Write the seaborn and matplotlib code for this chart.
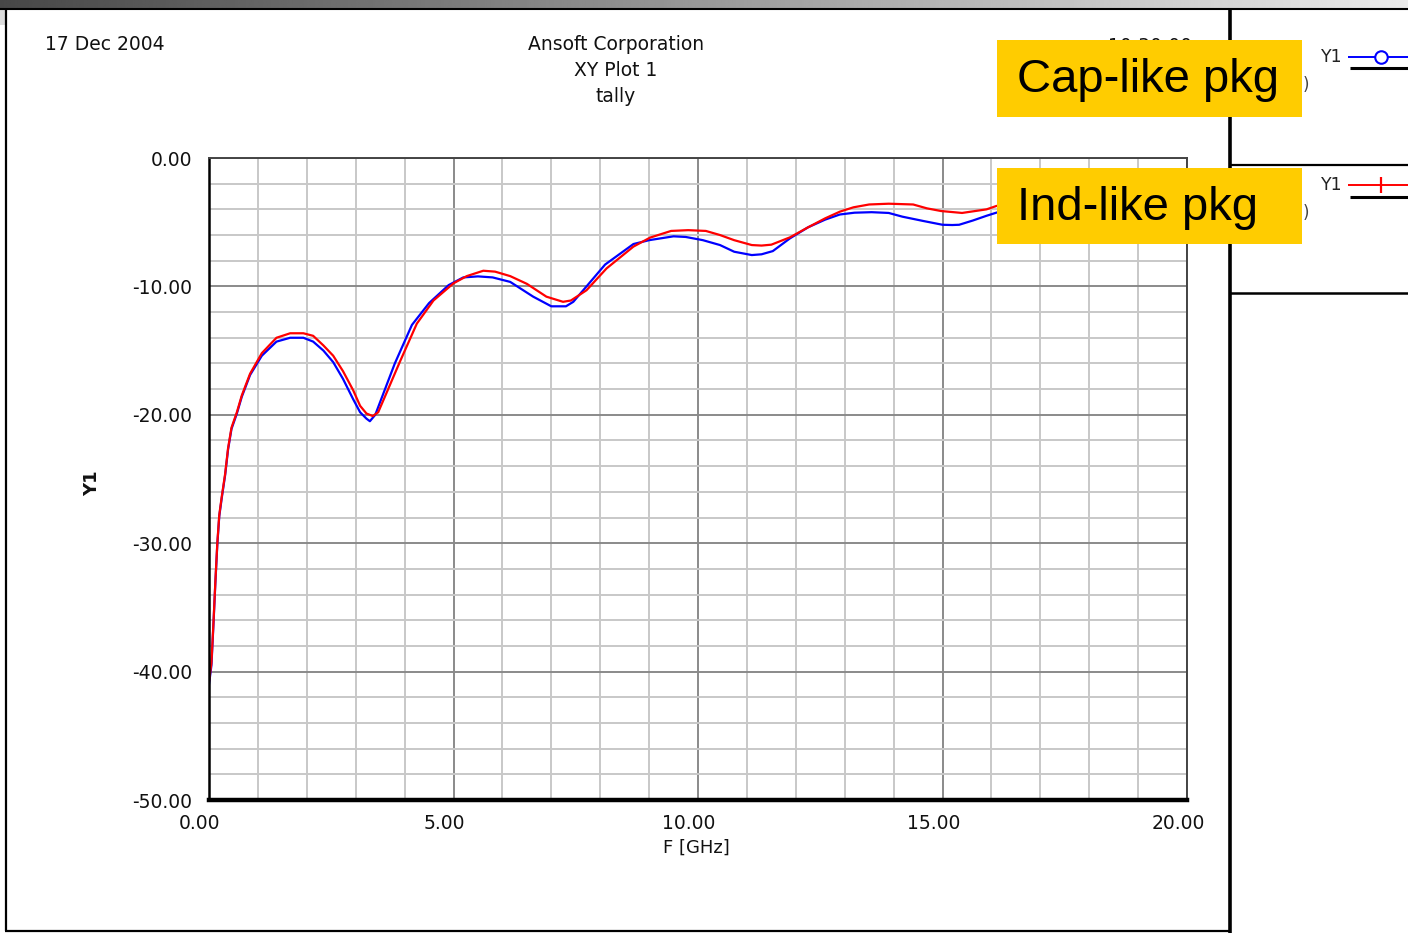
import numpy as np
import pandas as pd
import matplotlib
matplotlib.use("Agg")
import matplotlib.pyplot as plt
import seaborn as sns
from matplotlib.lines import Line2D
from matplotlib.patches import Rectangle
from matplotlib.ticker import MultipleLocator, FixedLocator
from matplotlib.transforms import ScaledTranslation

# ---------------- data ----------------
freq_cap = [0.00, 0.05, 0.09, 0.13, 0.17, 0.21, 0.26, 0.33, 0.39, 0.46, 0.57, 0.67, 0.84,
            1.08, 1.38, 1.66, 1.93, 2.13, 2.34, 2.54, 2.74, 2.95, 3.09, 3.22, 3.29, 3.40,
            3.55, 3.80, 4.15, 4.50, 4.90, 5.20, 5.50, 5.80, 6.16, 6.63, 7.00, 7.30, 7.45,
            7.72, 8.10, 8.68, 9.00, 9.50, 9.75, 10.10, 10.45, 10.74, 11.10, 11.30, 11.53,
            11.88, 12.25, 12.60, 12.90, 13.20, 13.55, 13.90, 14.18, 14.60, 15.00, 15.20,
            15.34, 15.62, 15.90, 16.10, 16.40]
y_cap = [-41.0, -39.5, -36.4, -33.1, -30.1, -27.9, -26.5, -24.7, -22.7, -21.1, -19.9, -18.6, -16.9,
         -15.4, -14.3, -14.0, -14.0, -14.3, -15.0, -15.9, -17.2, -18.8, -19.8, -20.3, -20.5, -20.0,
         -18.5, -16.0, -13.0, -11.3, -9.9, -9.3, -9.22, -9.3, -9.65, -10.8, -11.55, -11.55, -11.2,
         -10.0, -8.3, -6.7, -6.4, -6.1, -6.15, -6.4, -6.78, -7.3, -7.56, -7.5, -7.25,
         -6.26, -5.4, -4.8, -4.4, -4.26, -4.22, -4.28, -4.57, -4.9, -5.2, -5.22,
         -5.2, -4.87, -4.5, -4.26, -3.9]

freq_ind = [0.00, 0.05, 0.09, 0.13, 0.17, 0.21, 0.26, 0.33, 0.39, 0.46, 0.57, 0.67, 0.84,
            1.08, 1.38, 1.66, 1.93, 2.13, 2.34, 2.54, 2.74, 2.95, 3.09, 3.22, 3.35, 3.46,
            3.63, 3.90, 4.25, 4.59, 5.00, 5.27, 5.61, 5.85, 6.16, 6.50, 6.90, 7.24, 7.40,
            7.72, 8.13, 8.68, 9.02, 9.45, 9.80, 10.16, 10.45, 10.74, 11.10, 11.30, 11.50,
            11.88, 12.25, 12.60, 12.90, 13.18, 13.50, 13.90, 14.40, 14.68, 14.97, 15.40,
            15.90, 16.10, 16.40]
y_ind = [-40.8, -39.3, -36.3, -33.0, -30.0, -27.8, -26.4, -24.6, -22.6, -21.0, -19.8, -18.5, -16.8,
         -15.2, -14.0, -13.65, -13.65, -13.85, -14.6, -15.4, -16.6, -18.1, -19.3, -19.9, -20.1, -19.8,
         -18.3, -15.9, -12.9, -11.1, -9.76, -9.2, -8.78, -8.85, -9.2, -9.8, -10.8, -11.2, -11.1,
         -10.3, -8.6, -6.9, -6.2, -5.68, -5.62, -5.68, -6.0, -6.4, -6.78, -6.82, -6.75,
         -6.18, -5.4, -4.7, -4.18, -3.84, -3.62, -3.56, -3.62, -3.92, -4.13, -4.28,
         -4.0, -3.74, -3.5]

series_names = ["Cap-like pkg", "Ind-like pkg"]
series_colors = {"Cap-like pkg": "#0000FF", "Ind-like pkg": "#FF0000"}
x_ticks = [0, 5, 10, 15, 20]
y_ticks = [0, -10, -20, -30, -40, -50]
header_left = "17 Dec 2004"
header_center = ["Ansoft Corporation", "XY Plot 1", "tally"]
header_time = "10:30:00"
x_label = "F [GHz]"
y_label = "Y1"

# ---------------- figure ----------------
sns.set_style("white")
plt.rcParams["font.family"] = ["DejaVu Sans"]
plt.rcParams["axes.unicode_minus"] = False

W, H = 1408, 933
fig = plt.figure(figsize=(W / 100, H / 100), dpi=100)
fig.patch.set_facecolor("white")


def fx(x):
    return x / W


def fy(y):
    return 1 - y / H


def fline(x0, y0, x1, y1, color="black", lw=1.5, z=3, **kw):
    fig.add_artist(Line2D([fx(x0), fx(x1)], [fy(y0), fy(y1)], transform=fig.transFigure,
                          color=color, lw=lw, zorder=z, solid_capstyle="butt", **kw))


# top gradient bar
gax = fig.add_axes([0, fy(8), 1, 8 / H])
gax.imshow(np.linspace(0.28, 0.92, 512)[None, :], cmap="gray", vmin=0, vmax=1,
           aspect="auto", interpolation="bilinear")
gax.axis("off")
fig.add_artist(Rectangle((0, fy(25)), fx(5), 17 / H, transform=fig.transFigure,
                         facecolor="#dcdcdc", edgecolor="none", zorder=2))

# main plot axes
ax = fig.add_axes([fx(209), fy(800), fx(1187) - fx(209), fy(158) - fy(800)])
df = pd.concat([
    pd.DataFrame({"F": freq_cap, "Y1": y_cap, "pkg": series_names[0]}),
    pd.DataFrame({"F": freq_ind, "Y1": y_ind, "pkg": series_names[1]}),
], ignore_index=True)
sns.lineplot(data=df, x="F", y="Y1", hue="pkg", palette=series_colors, hue_order=series_names,
             estimator=None, sort=False, lw=1.6, legend=False, ax=ax)

ax.set_xlim(0, 20)
ax.set_ylim(-50, 0)
ax.xaxis.set_major_locator(FixedLocator(x_ticks))
ax.xaxis.set_minor_locator(MultipleLocator(1))
ax.yaxis.set_major_locator(FixedLocator(y_ticks))
ax.yaxis.set_minor_locator(MultipleLocator(2))
ax.set_xticklabels([f"{v:.2f}" for v in x_ticks])
ax.set_yticklabels([f"{v:.2f}" for v in y_ticks])
ax.set_axisbelow(True)
ax.grid(which="minor", color="#c8c8c8", lw=1.4)
ax.grid(which="major", color="#8a8a8a", lw=1.4)

for s in ["top", "right"]:
    ax.spines[s].set_color("#444444")
    ax.spines[s].set_linewidth(1.4)
ax.spines["left"].set_color("black")
ax.spines["left"].set_linewidth(1.8)
ax.spines["bottom"].set_color("black")
ax.spines["bottom"].set_linewidth(3.2)

ax.tick_params(axis="y", which="major", length=7, width=1.2, color="black",
               labelsize=13.5, pad=5, labelcolor="#111111")
ax.tick_params(axis="y", which="minor", length=4, width=1.2, color="black")
ax.tick_params(axis="x", which="major", length=5, width=1.2, color="black",
               labelsize=13.5, pad=5, labelcolor="#111111")
ax.tick_params(axis="x", which="minor", length=5, width=1.2, color="black")
for lab in ax.get_xticklabels():
    lab.set_transform(lab.get_transform() + ScaledTranslation(-9 / 100, 0, fig.dpi_scale_trans))

ax.set_xlabel(x_label, fontsize=13, color="#111111")
ax.xaxis.label.set_va("center")
ax.xaxis.set_label_coords((696 - 209) / 978, (800 - 848) / 642)
ax.set_ylabel(y_label, fontsize=13, fontweight="bold", color="#111111")
ax.yaxis.label.set_va("center")
ax.yaxis.set_label_coords((92 - 209) / 978, (800 - 483) / 642)

# header texts
fig.text(fx(45), fy(45), header_left, fontsize=13.5, ha="left", va="center", color="#111111")
for i, t in enumerate(header_center):
    fig.text(fx(616), fy(45 + 25.5 * i), t, fontsize=13.5, ha="center", va="center", color="#111111")
fig.text(fx(1150), fy(46), header_time, fontsize=13.5, ha="center", va="center", color="#111111")

# frame lines
fline(0, 8.5, 1408, 8.5, lw=1.5)
fline(6, 8, 6, 931, lw=1.6)
fline(5, 930.5, 1230, 930.5, lw=1.6)
fline(1230, 8, 1230, 933, lw=2.6)
fline(1230, 165, 1408, 165, lw=1.6)
fline(1230, 293.5, 1408, 293.5, lw=1.8)

# right legend panel
fig.text(fx(1321), fy(57), "Y1", fontsize=12.5, ha="left", va="center", color="#222222")
fline(1348, 57, 1408, 57, color=series_colors[series_names[0]], lw=1.4)
fig.add_artist(Line2D([fx(1381)], [fy(57)], transform=fig.transFigure, marker="o", ms=9,
                      mfc="white", mec=series_colors[series_names[0]], mew=1.5, zorder=4))
fline(1350, 68, 1408, 68, lw=2.2)
fig.text(fx(1321), fy(185), "Y1", fontsize=12.5, ha="left", va="center", color="#222222")
fline(1348, 185, 1408, 185, color=series_colors[series_names[1]], lw=1.4)
fig.add_artist(Line2D([fx(1381)], [fy(185)], transform=fig.transFigure, marker="|", ms=11,
                      mec=series_colors[series_names[1]], mew=1.6, zorder=4))
fline(1350, 197, 1408, 197, lw=2.2)
fig.text(fx(1309), fy(85), ")", fontsize=12, ha="right", va="center", color="#444444")
fig.text(fx(1309), fy(213), ")", fontsize=12, ha="right", va="center", color="#444444")

# yellow annotation boxes
for (x0, y0, x1, y1), name in zip([(997, 40, 1302, 117), (997, 168, 1302, 244)], series_names):
    fig.add_artist(Rectangle((fx(x0), fy(y1)), fx(x1) - fx(x0), fy(y0) - fy(y1),
                             transform=fig.transFigure, facecolor="#FFCC00",
                             edgecolor="none", zorder=10))
    fig.text(fx(1017), fy((y0 + y1) / 2 + 2), name, fontsize=34, ha="left", va="center",
             family=["Liberation Sans", "DejaVu Sans"], color="black", zorder=11)

fig.savefig("out.png", dpi=100, facecolor="white")
